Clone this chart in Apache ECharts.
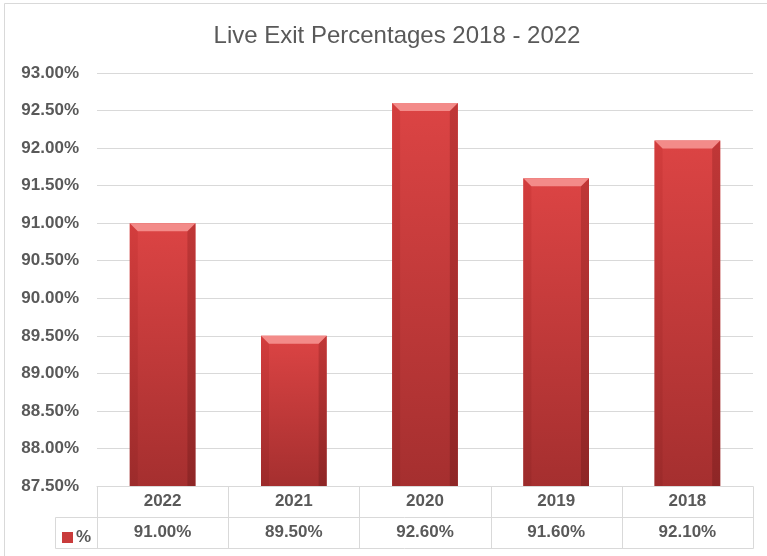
<!DOCTYPE html>
<html>
<head>
<meta charset="utf-8">
<script src="https://cdn.jsdelivr.net/npm/echarts@6/dist/echarts.min.js"></script>
<style>
html,body{margin:0;padding:0;background:#fff;}
#c{width:767px;height:556px;}
</style>
</head>
<body>
<div id="c"></div>
<script>
// ---- data ----
const categories = ['2022', '2021', '2020', '2019', '2018'];
const values = [91.00, 89.50, 92.60, 91.60, 92.10];
const seriesName = '%';
const titleText = 'Live Exit Percentages 2018 - 2022';
const yMin = 87.5, yMax = 93.0, yStep = 0.5;

const FONT = 'Liberation Sans';
const GRAY = '#595959';
const LINE = '#d9d9d9';
const GRID = {left: 97, right: 14, top: 73, bottom: 70};

const chart = echarts.init(document.getElementById('c'), null, {renderer: 'canvas'});

function fmt(v) { return v.toFixed(2) + '%'; }

function renderBar(params, api) {
  const idx = api.value(0);
  const val = api.value(1);
  const top = api.coord([idx, val]);
  const base = api.coord([idx, yMin]);
  const bw = api.size([1, 0])[0] * 0.5;
  const x0 = top[0] - bw / 2, x1 = top[0] + bw / 2;
  const y0 = top[1], yb = base[1];
  const b = 8;
  const faceGrad = new echarts.graphic.LinearGradient(0, 0, 0, 1, [
    {offset: 0, color: '#dc4444'},
    {offset: 1, color: '#a52f2f'}
  ]);
  const leftGrad = new echarts.graphic.LinearGradient(0, 0, 0, 1, [
    {offset: 0, color: '#d33d3d'},
    {offset: 1, color: '#9c2b2b'}
  ]);
  const rightGrad = new echarts.graphic.LinearGradient(0, 0, 0, 1, [
    {offset: 0, color: '#c03737'},
    {offset: 1, color: '#8e2626'}
  ]);
  return {
    type: 'group',
    children: [
      {type: 'rect', shape: {x: x0, y: y0, width: x1 - x0, height: yb - y0}, style: {fill: faceGrad}},
      {type: 'polygon', shape: {points: [[x0, y0], [x0 + b, y0 + b], [x0 + b, yb], [x0, yb]]}, style: {fill: leftGrad}},
      {type: 'polygon', shape: {points: [[x1, y0], [x1 - b, y0 + b], [x1 - b, yb], [x1, yb]]}, style: {fill: rightGrad}},
      {type: 'polygon', shape: {points: [[x0, y0], [x1, y0], [x1 - b, y0 + b], [x0 + b, y0 + b]]}, style: {fill: '#f38b89'}}
    ]
  };
}

const option = {
  animation: false,
  backgroundColor: '#fff',
  title: {
    text: titleText,
    left: 392, textAlign: 'center', top: 19,
    textStyle: {fontFamily: FONT, fontSize: 24, fontWeight: 'normal', color: GRAY}
  },
  legend: {
    show: true,
    left: 57, top: 524,
    icon: 'rect', itemWidth: 11, itemHeight: 11, itemGap: 4,
    textStyle: {fontFamily: FONT, fontSize: 17, fontWeight: 'bold', color: GRAY, padding: [0, 0, 0, -2]},
    data: [seriesName]
  },
  grid: GRID,
  xAxis: {
    type: 'category',
    data: categories,
    axisLine: {show: true, lineStyle: {color: LINE, width: 1}},
    axisTick: {show: false},
    splitLine: {show: false},
    axisLabel: {
      margin: 0,
      interval: 0,
      formatter: function (v, i) { return '{y|' + v + '}\n{v|' + fmt(values[i]) + '}'; },
      rich: {
        y: {fontFamily: FONT, fontSize: 17, fontWeight: 'bold', color: GRAY, lineHeight: 31, height: 31, verticalAlign: 'middle'},
        v: {fontFamily: FONT, fontSize: 17, fontWeight: 'bold', color: GRAY, lineHeight: 31, height: 31, verticalAlign: 'middle'}
      }
    }
  },
  yAxis: {
    type: 'value',
    min: yMin, max: yMax, interval: yStep,
    axisLine: {show: false},
    axisTick: {show: false},
    splitLine: {show: true, lineStyle: {color: LINE, width: 1}},
    axisLabel: {
      margin: 18,
      formatter: function (v) { return v.toFixed(2) + '%'; },
      fontFamily: FONT, fontSize: 17, fontWeight: 'bold', color: GRAY
    }
  },
  series: [{
    name: seriesName,
    type: 'custom',
    renderItem: renderBar,
    itemStyle: {color: '#c93b3b'},
    encode: {x: 0, y: 1},
    data: values.map(function (v, i) { return [i, v]; }),
    z: 2
  }]
};
chart.setOption(option);

// ---- data table lines (positions derived from the axis) ----
function buildTable() {
  const n = categories.length;
  const c0 = chart.convertToPixel({xAxisIndex: 0}, 0);
  const c1 = chart.convertToPixel({xAxisIndex: 0}, 1);
  const band = c1 - c0;
  const left = c0 - band / 2;
  const right = left + band * n;
  const yAxisPx = chart.convertToPixel({yAxisIndex: 0}, yMin);
  const rowH = 31;
  const r1 = yAxisPx + rowH, r2 = yAxisPx + rowH * 2;
  const legendLeft = 55;
  const els = [];
  const ls = {stroke: LINE, lineWidth: 1};
  function line(x1, y1, x2, y2) {
    els.push({type: 'line', silent: true, z: 1,
      shape: {x1: Math.round(x1) + 0.5, y1: Math.round(y1) + 0.5, x2: Math.round(x2) + 0.5, y2: Math.round(y2) + 0.5}, style: ls});
  }
  for (let i = 0; i <= n; i++) {
    const x = left + band * i;
    line(x, yAxisPx, x, r2);
  }
  line(legendLeft, r1, right, r1);
  line(legendLeft, r2, right, r2);
  line(legendLeft, r1, legendLeft, r2);
  // chart area border (top & left)
  line(4, 3, 767, 3);
  line(4, 3, 4, 556);
  chart.setOption({graphic: els});
}
buildTable();
</script>
</body>
</html>
